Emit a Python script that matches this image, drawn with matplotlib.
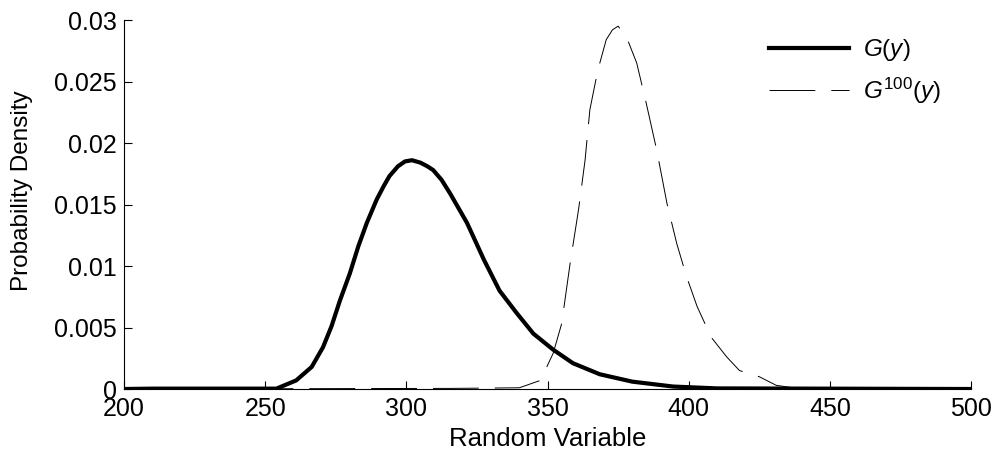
import matplotlib
matplotlib.use("Agg")
import matplotlib.pyplot as plt

plt.rcParams['font.family'] = ['Liberation Sans', 'DejaVu Sans']
plt.rcParams['mathtext.fontset'] = 'custom'
plt.rcParams['mathtext.rm'] = 'Liberation Sans'
plt.rcParams['mathtext.it'] = 'Liberation Sans:italic'
plt.rcParams['lines.scale_dashes'] = False

# G(y) density
g_x = [200, 210, 254, 261, 266.5, 270.5, 273.5, 276.5, 280, 283, 286, 289.5, 292,
       294, 297, 299.5, 302, 305, 307.5, 309.5, 312.5, 315.5, 321.5, 327.5, 333,
       339, 345, 352, 359, 368.5, 380, 394.5, 410, 500]
g_y = [0, 0.00003, 0.00003, 0.0007, 0.0018, 0.0034, 0.0051, 0.0072, 0.0094, 0.0116,
       0.0135, 0.0154, 0.0165, 0.0173, 0.0181, 0.0185, 0.0186, 0.0184, 0.0181,
       0.0178, 0.0170, 0.0159, 0.0135, 0.0105, 0.0080, 0.0062, 0.0045, 0.0032,
       0.0021, 0.0012, 0.0006, 0.0002, 0.00005, 0]

# G^100(y) density
g100_x = [200, 316, 340, 347.5, 352, 355, 358, 361, 363.3, 365, 367.8, 370.8, 373,
          375, 378, 381.6, 385, 388.7, 392.3, 395.8, 399.3, 403, 408, 413.5, 418,
          425, 431, 440, 500]
g100_y = [0, 0.00005, 0.0001, 0.0007, 0.0029, 0.0053, 0.0102, 0.0146, 0.0186,
          0.0227, 0.0259, 0.0284, 0.0292, 0.0295, 0.0286, 0.0265, 0.0232, 0.0194,
          0.0151, 0.0118, 0.0091, 0.0067, 0.0042, 0.0026, 0.0015, 0.0010, 0.0003,
          0, 0]

x_ticks = [200, 250, 300, 350, 400, 450, 500]
y_ticks = [0, 0.005, 0.01, 0.015, 0.02, 0.025, 0.03]
y_tick_labels = ['0', '0.005', '0.01', '0.015', '0.02', '0.025', '0.03']

fig = plt.figure(figsize=(9.98, 4.63), dpi=100)
ax = fig.add_axes([0.1242, 0.1598, 0.8488, 0.797])

ax.plot(g_x, g_y, color='black', lw=3.0, label=r'$G(y)$', zorder=3)
line, = ax.plot(g100_x, g100_y, color='black', lw=0.7, label=r'$G^{100}(y)$')
line.set_dashes((33, 11.5))

ax.set_xlim(200, 500)
ax.set_ylim(0, 0.03)
ax.set_xticks(x_ticks)
ax.set_yticks(y_ticks)
ax.set_yticklabels(y_tick_labels)
ax.spines['top'].set_visible(False)
ax.spines['right'].set_visible(False)
ax.tick_params(direction='in', length=6, width=0.8, labelsize=18)
ax.tick_params(axis='x', pad=6)
ax.tick_params(axis='y', pad=5)

ax.set_xlabel('Random Variable', fontsize=18.5, labelpad=4)
ax.set_ylabel('Probability Density', fontsize=17.5)
ax.yaxis.set_label_coords(-0.1074, 0.5366)

ax.legend(loc='upper right', bbox_to_anchor=(0.99, 1.012), frameon=False,
          fontsize=17.5, handlelength=3.3, handletextpad=0.55, labelspacing=0.5)

fig.savefig('out.png', dpi=100)
